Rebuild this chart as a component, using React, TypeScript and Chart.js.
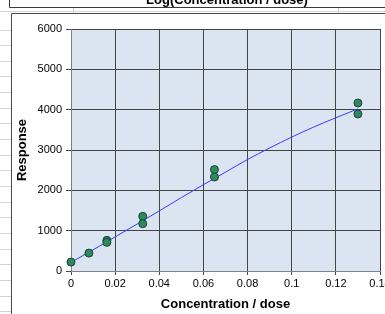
import React, { useEffect, useRef } from "react";
import { Chart, registerables } from "chart.js";

Chart.register(...registerables);

// Measured points (concentration, response)
const pointX = [0, 0.008125, 0.01625, 0.01625, 0.0325, 0.0325, 0.065, 0.065, 0.13, 0.13];
const pointY = [221, 444, 760, 710, 1355, 1173, 2514, 2330, 4166, 3893];

// Fitted curve
const fitX = [0, 0.01, 0.02, 0.03, 0.04, 0.05, 0.06, 0.07, 0.08, 0.09, 0.1, 0.11, 0.12, 0.13];
const fitY = [215, 525, 845, 1165, 1490, 1820, 2140, 2450, 2765, 3050, 3320, 3570, 3800, 4020];

const xTicks = [0, 0.02, 0.04, 0.06, 0.08, 0.1, 0.12, 0.14];
const yTicks = [0, 1000, 2000, 3000, 4000, 5000, 6000];

const titleText = "Log(Concentration / dose)";
const xTitle = "Concentration / dose";
const yTitle = "Response";

const sheetPlugin = {
  id: "sheet",
  beforeDraw(chart: any) {
    const { ctx, width, height, chartArea } = chart;
    ctx.save();
    ctx.fillStyle = "#ffffff";
    ctx.fillRect(0, 0, width, height);
    // spreadsheet gridlines
    ctx.strokeStyle = "#d4d4d4";
    ctx.lineWidth = 1;
    ctx.beginPath();
    ctx.moveTo(0, 11.5);
    ctx.lineTo(width, 11.5);
    ctx.moveTo(73.5, 7);
    ctx.lineTo(73.5, 13);
    ctx.moveTo(338.5, 7);
    ctx.lineTo(338.5, 13);
    for (let y = 29.5; y < height; y += 15.65) {
      const yy = Math.round(y) + 0.5;
      ctx.moveTo(0, yy);
      ctx.lineTo(11, yy);
    }
    ctx.stroke();
    // title box
    ctx.fillStyle = "#ffffff";
    ctx.fillRect(9, 0, width, 7);
    ctx.strokeStyle = "#3a3a3a";
    ctx.beginPath();
    ctx.moveTo(9.5, 0);
    ctx.lineTo(9.5, 7.5);
    ctx.lineTo(width, 7.5);
    ctx.stroke();
    ctx.fillStyle = "#000000";
    ctx.font = "bold 13px Arial, 'Liberation Sans', sans-serif";
    ctx.textAlign = "center";
    ctx.textBaseline = "alphabetic";
    ctx.save();
    ctx.beginPath();
    ctx.rect(10, 0, width, 7);
    ctx.clip();
    ctx.fillText(titleText, 227, 4);
    ctx.restore();
    // chart area box
    ctx.fillStyle = "#ffffff";
    ctx.fillRect(11, 13, width, height);
    ctx.strokeStyle = "#4a4a4a";
    ctx.beginPath();
    ctx.moveTo(11.5, height);
    ctx.lineTo(11.5, 13.5);
    ctx.lineTo(width, 13.5);
    ctx.stroke();
    // plot area
    ctx.fillStyle = "#dbe5f1";
    ctx.fillRect(chartArea.left, chartArea.top, chartArea.right - chartArea.left, chartArea.bottom - chartArea.top);
    ctx.restore();
  },
};

export default function App() {
  const ref = useRef<HTMLCanvasElement>(null);
  useEffect(() => {
    if (!ref.current) return;
    const font = { family: "Arial, 'Liberation Sans', sans-serif", size: 11 };
    const chart = new Chart(ref.current, {
      type: "scatter",
      data: {
        datasets: [
          {
            label: "points",
            data: pointX.map((x, i) => ({ x, y: pointY[i] })),
            backgroundColor: "#2a8c5e",
            borderColor: "#233f31",
            borderWidth: 1,
            pointRadius: 4,
            clip: false,
            order: 1,
          } as any,
          {
            label: "fit",
            data: fitX.map((x, i) => ({ x, y: fitY[i] })),
            showLine: true,
            borderColor: "#3a3aff",
            borderWidth: 1,
            pointRadius: 0,
            cubicInterpolationMode: "monotone",
            order: 2,
          } as any,
        ],
      },
      options: {
        responsive: false,
        animation: false,
        layout: { padding: { left: 12, right: 5, top: 29, bottom: 0 } },
        plugins: { legend: { display: false }, tooltip: { enabled: false }, title: { display: false } },
        scales: {
          x: {
            type: "linear",
            min: 0,
            max: 0.14,
            afterBuildTicks: (s: any) => {
              s.ticks = xTicks.map((v) => ({ value: v }));
            },
            afterFit: (s: any) => {
              s.height = 43;
              s.paddingLeft = 0;
              s.paddingRight = 0;
            },
            ticks: {
              autoSkip: false,
              maxRotation: 0,
              minRotation: 0,
              color: "#000",
              font,
              padding: 2,
              callback: (v: any) => String(Number(Number(v).toFixed(2))),
            },
            grid: { color: "#454545", lineWidth: 1, tickLength: 4, tickColor: "#454545" },
            border: { display: true, color: "#808080" },
            title: {
              display: true,
              text: xTitle,
              color: "#000",
              font: { family: "Arial, 'Liberation Sans', sans-serif", size: 13, weight: "bold" },
              padding: { top: 0, bottom: 2 },
            },
          },
          y: {
            type: "linear",
            min: 0,
            max: 6000,
            afterBuildTicks: (s: any) => {
              s.ticks = yTicks.map((v) => ({ value: v }));
            },
            afterFit: (s: any) => {
              s.width = 59;
              s.paddingTop = 0;
              s.paddingBottom = 0;
            },
            ticks: { color: "#000", font, padding: 4, callback: (v: any) => String(v) },
            grid: { color: "#454545", lineWidth: 1, tickLength: 5, tickColor: "#454545" },
            border: { display: true, color: "#808080" },
            title: {
              display: true,
              text: yTitle,
              color: "#000",
              font: { family: "Arial, 'Liberation Sans', sans-serif", size: 13, weight: "bold" },
              padding: { top: 3, bottom: 0 },
            },
          },
        },
      },
      plugins: [sheetPlugin],
    } as any);
    return () => chart.destroy();
  }, []);
  return (
    <div style={{ position: "fixed", left: 0, top: 0, width: 385, height: 314 }}>
      <canvas ref={ref} width={385} height={314} style={{ display: "block", width: 385, height: 314 }} />
    </div>
  );
}
